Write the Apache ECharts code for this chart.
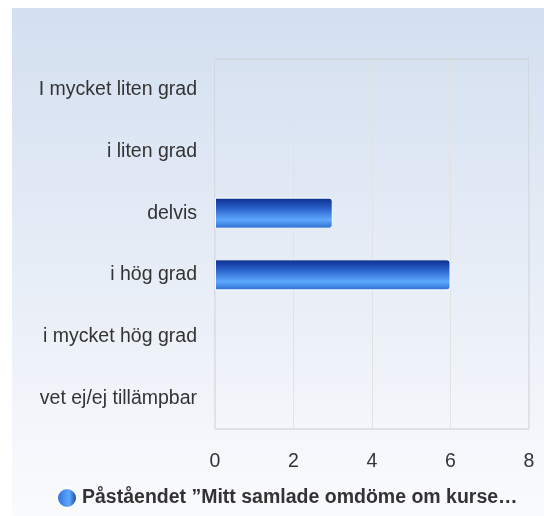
<!DOCTYPE html>
<html>
<head>
<meta charset="utf-8">
<script src="https://cdn.jsdelivr.net/npm/echarts@6/dist/echarts.min.js"></script>
<style>
  html, body { margin: 0; padding: 0; background: #fff; }
  #main { width: 544px; height: 516px; }
</style>
</head>
<body>
<div id="main"></div>
<script>
// kategorier (uppifrån och ner)
var categories = ['I mycket liten grad', 'i liten grad', 'delvis', 'i hög grad', 'i mycket hög grad', 'vet ej/ej tillämpbar'];
// antal svar
var answers = [0, 0, 3, 6, 0, 0];
var seriesName = 'Påståendet ”Mitt samlade omdöme om kursen är positivt”';
var xTicks = [0, 2, 4, 6, 8];

var chart = document.getElementById('main');
var echart = echarts.init(chart);

//nollvärden utan vit kant
var barData = answers.map(function (v) {
    return v === 0 ? {value: v, itemStyle: {borderWidth: 0, opacity: 0}} : v;
});

var option = {
    animation: false,
    graphic: [
        {
            type: 'rect',
            z: -10,
            silent: true,
            shape: {x: 12, y: 8, width: 532, height: 508},
            style: {
                fill: new echarts.graphic.LinearGradient(0, 0, 0, 1, [
                    {offset: 0, color: '#d3dff0'},
                    {offset: 1, color: '#fafbfd'}
                ])
            }
        }
    ],
    grid: {
        left: 215,
        top: 59,
        right: 15,
        bottom: 87,
        show: true,
        borderColor: '#cccccc',
        borderWidth: 1,
        backgroundColor: 'transparent'
    },
    legend: {
        bottom: 2,
        left: 51,
        itemWidth: 20,
        itemHeight: 20,
        itemGap: 6,
        icon: 'circle',
        data: [{
            name: seriesName,
            itemStyle: {
                color: new echarts.graphic.LinearGradient(0, 0, 1, 0, [
                    {offset: 0, color: '#2a6ad8'},
                    {offset: 0.6, color: '#5ea8ff'},
                    {offset: 1, color: '#0c2f8f'}
                ])
            }
        }],
        textStyle: {
            fontFamily: 'Liberation Sans, Arial, sans-serif',
            fontSize: 19.5,
            fontWeight: 'bold',
            color: '#333',
            width: 470,
            overflow: 'truncate',
            ellipsis: '…'
        }
    },
    xAxis: {
        type: 'value',
        min: 0,
        max: 8,
        interval: 2,
        axisLine: {show: false},
        axisTick: {show: false},
        splitLine: {lineStyle: {color: '#e2e2e2'}},
        axisLabel: {
            margin: 23,
            fontFamily: 'Liberation Sans, Arial, sans-serif',
            fontSize: 19.5,
            color: '#333',
            formatter: function (v) { return xTicks.indexOf(v) >= 0 ? String(v) : ''; }
        }
    },
    yAxis: {
        type: 'category',
        inverse: true,
        data: categories,
        axisLine: {show: false},
        axisTick: {show: false},
        splitLine: {show: false},
        axisLabel: {
            margin: 18,
            fontFamily: 'Liberation Sans, Arial, sans-serif',
            fontSize: 19.5,
            color: '#333'
        }
    },
    series: [
        {
            name: seriesName,
            type: 'bar',
            data: barData,
            barWidth: 31,
            itemStyle: {
                borderColor: '#ffffff',
                borderWidth: 1,
                borderRadius: [0, 3, 3, 0],
                color: new echarts.graphic.LinearGradient(0, 0, 0, 1, [
                    {offset: 0, color: '#0a2b8c'},
                    {offset: 0.35, color: '#2a62cc'},
                    {offset: 0.72, color: '#5ea8ff'},
                    {offset: 1, color: '#2a6ad0'}
                ])
            }
        }
    ]
};
echart.setOption(option);
</script>
</body>
</html>
